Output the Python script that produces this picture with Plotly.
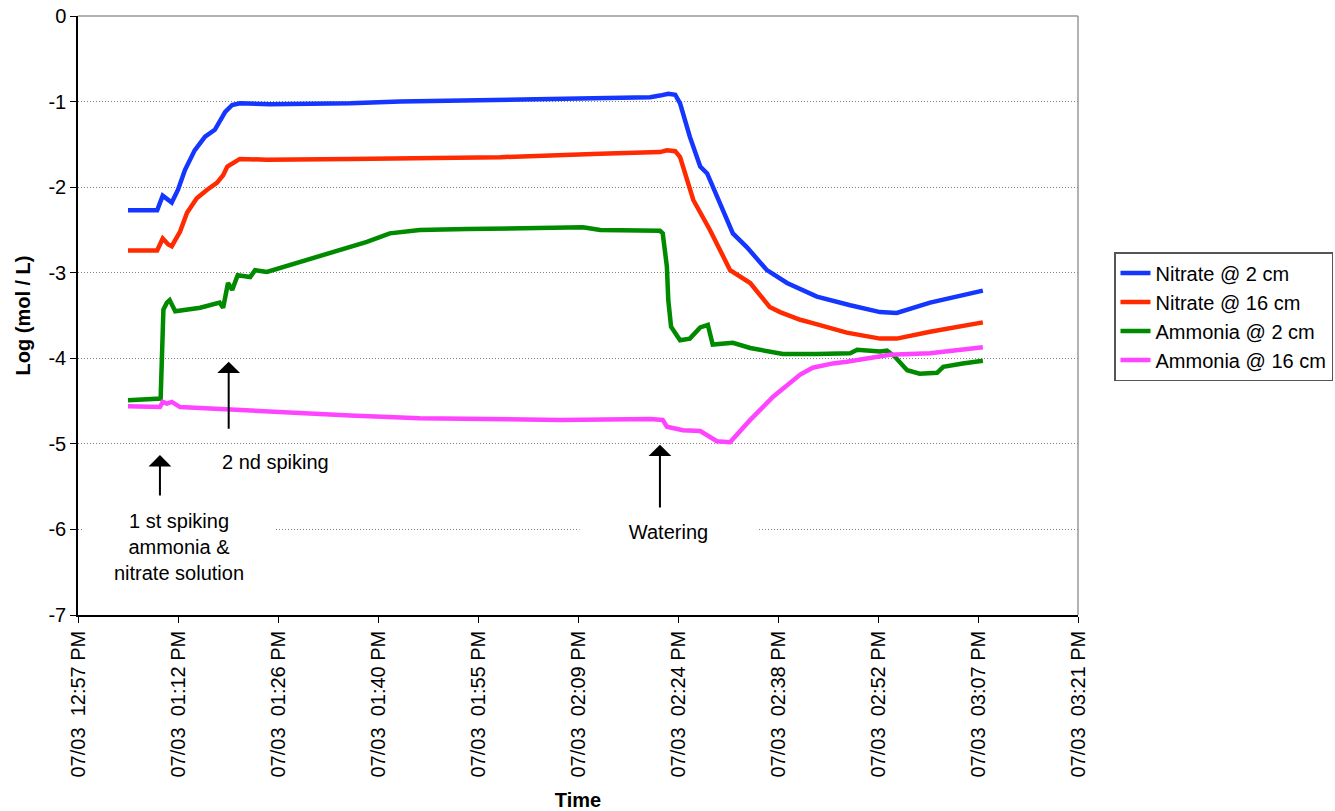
import datetime as dt
import plotly.graph_objects as go

# Sensor log, minutes after 1:00 PM on 07/03 and log10 concentration (mol/L)
nitrate_2cm_min = [4.8, 9.0, 9.8, 10.6, 11.1, 12.0, 13.0, 14.4, 15.9, 17.3, 18.0, 18.8, 19.8,
                   20.9, 25.2, 29.6, 36.8, 44.0, 51.2, 58.4, 65.6, 72.8, 80.0, 81.4, 82.6,
                   83.6, 84.3, 85.7, 87.2, 88.2, 89.6, 91.9, 93.9, 96.8, 99.7, 104.0, 108.8,
                   113.1, 115.5, 120.3, 127.9]
nitrate_2cm_log = [-2.27, -2.27, -2.10, -2.16, -2.18, -2.03, -1.80, -1.57, -1.41, -1.33, -1.24,
                   -1.12, -1.04, -1.02, -1.03, -1.03, -1.02, -1.00, -0.99, -0.98, -0.975, -0.96,
                   -0.95, -0.93, -0.91, -0.92, -1.02, -1.41, -1.76, -1.84, -2.11, -2.54, -2.70,
                   -2.97, -3.12, -3.28, -3.38, -3.46, -3.47, -3.35, -3.21]

nitrate_16cm_min = [4.8, 9.0, 9.8, 10.6, 11.1, 12.3, 13.3, 14.7, 16.2, 17.6, 18.5, 19.1, 20.9,
                    24.8, 36.8, 46.8, 58.4, 72.8, 80.0, 81.4, 82.4, 83.6, 84.3, 85.7, 86.2,
                    88.6, 91.5, 94.4, 97.2, 98.7, 101.6, 103.4, 108.3, 113.1, 115.5, 120.3, 127.9]
nitrate_16cm_log = [-2.74, -2.74, -2.60, -2.67, -2.69, -2.52, -2.30, -2.13, -2.03, -1.95, -1.86,
                    -1.76, -1.67, -1.68, -1.67, -1.66, -1.65, -1.61, -1.60, -1.59, -1.57, -1.58,
                    -1.65, -2.03, -2.15, -2.50, -2.97, -3.12, -3.40, -3.46, -3.55, -3.59, -3.70,
                    -3.77, -3.77, -3.69, -3.58]

ammonia_2cm_min = [4.8, 9.5, 9.9, 10.4, 10.8, 11.6, 15.2, 18.0, 18.5, 19.2, 19.8, 20.6, 22.4,
                   23.1, 24.8, 29.6, 34.3, 39.2, 42.5, 46.8, 53.6, 63.1, 70.3, 72.8, 80.0,
                   81.4, 81.8, 82.4, 82.6, 83.0, 84.3, 85.7, 87.2, 88.3, 89.0, 91.9, 94.4,
                   99.1, 104.0, 108.8, 109.8, 113.1, 114.1, 115.2, 117.0, 118.8, 121.3, 122.2,
                   125.0, 127.9]
ammonia_2cm_log = [-4.49, -4.47, -3.43, -3.35, -3.32, -3.45, -3.41, -3.35, -3.41, -3.12, -3.20,
                   -3.03, -3.05, -2.97, -2.99, -2.87, -2.76, -2.64, -2.54, -2.50, -2.49, -2.48,
                   -2.47, -2.50, -2.51, -2.51, -2.54, -2.93, -3.32, -3.63, -3.79, -3.77, -3.64,
                   -3.61, -3.84, -3.82, -3.88, -3.95, -3.95, -3.94, -3.90, -3.92, -3.91, -3.98,
                   -4.14, -4.18, -4.17, -4.10, -4.06, -4.03]

ammonia_16cm_min = [4.8, 9.4, 9.8, 10.4, 11.1, 12.3, 15.2, 19.8, 24.8, 29.6, 36.8, 46.8, 58.4,
                    67.0, 80.0, 81.8, 82.4, 84.7, 87.2, 89.6, 91.5, 94.4, 97.7, 101.6, 103.4,
                    106.3, 108.3, 114.5, 120.3, 127.9]
ammonia_16cm_log = [-4.56, -4.57, -4.51, -4.53, -4.51, -4.57, -4.58, -4.60, -4.63, -4.64, -4.67,
                    -4.70, -4.71, -4.72, -4.71, -4.72, -4.80, -4.84, -4.85, -4.97, -4.98, -4.72,
                    -4.45, -4.19, -4.11, -4.06, -4.04, -3.96, -3.94, -3.87]

series_names = ["Nitrate @ 2 cm", "Nitrate @ 16 cm", "Ammonia @ 2 cm", "Ammonia @ 16 cm"]
series_colors = ["#1436FF", "#FF2A00", "#008A00", "#FF44FF"]

# Events marked on the chart
event_labels = ["1 st spiking<br>ammonia &<br>nitrate solution", "2 nd spiking", "Watering"]

y_tick_vals = [0, -1, -2, -3, -4, -5, -6, -7]
y_tick_text = ["0", "-1", "-2", "-3", "-4", "-5", "-6", "-7"]

BASE = dt.datetime(2008, 7, 3, 13, 0, 0)


def to_time(minutes):
    return [BASE + dt.timedelta(minutes=m) for m in minutes]


# Axis ticks every 0.01 day (14.4 min) starting 12:57:36 PM
tick_start = dt.datetime(2008, 7, 3, 12, 57, 36)
tick_times = [tick_start + dt.timedelta(minutes=14.4 * k) for k in range(11)]
tick_labels = [t.strftime("%m/%d  %I:%M %p") for t in tick_times]

fig = go.Figure()
all_series = [
    (nitrate_2cm_min, nitrate_2cm_log),
    (nitrate_16cm_min, nitrate_16cm_log),
    (ammonia_2cm_min, ammonia_2cm_log),
    (ammonia_16cm_min, ammonia_16cm_log),
]
for (mins, vals), name, color in zip(all_series, series_names, series_colors):
    fig.add_trace(go.Scatter(
        x=to_time(mins), y=vals, name=name, mode="lines",
        line=dict(color=color, width=4.5),
    ))

FONT = "Arial, Liberation Sans, sans-serif"

# Event arrows: (minutes after 1 PM, tip value, tail value)
arrows = [
    (9.4, -5.13, -5.62),
    (19.3, -4.04, -4.84),
    (81.4, -5.01, -5.76),
]
for m, tip, tail in arrows:
    t = to_time([m])[0]
    fig.add_annotation(
        x=t, y=tip, ax=t, ay=tail, axref="x", ayref="y", xref="x", yref="y",
        text="", showarrow=True, arrowhead=1, arrowsize=1.9, arrowwidth=2,
        arrowcolor="black",
    )

label_pos = [(12.1, -6.21, 190), (26.0, -5.21, None), (82.6, -6.03, 175)]
for text, (m, v, w) in zip(event_labels, label_pos):
    kw = dict(width=w) if w else {}
    fig.add_annotation(
        x=to_time([m])[0], y=v, xref="x", yref="y", text=text, showarrow=False,
        font=dict(family=FONT, size=20, color="black"), bgcolor="white",
        align="center", xanchor="center", yanchor="middle", **kw,
    )

# Grey frame on the top and right of the plot area
fig.add_shape(type="line", xref="paper", yref="paper", x0=0, x1=1, y0=1, y1=1,
              line=dict(color="#999999", width=1.5))
fig.add_shape(type="line", xref="paper", yref="paper", x0=1, x1=1, y0=0, y1=1,
              line=dict(color="#999999", width=1.5))

fig.update_layout(
    width=1335, height=811,
    margin=dict(l=78, r=257, t=16, b=196, autoexpand=False),
    paper_bgcolor="white", plot_bgcolor="white",
    font=dict(family=FONT, size=20, color="black"),
    showlegend=True,
    legend=dict(
        x=1.036, y=0.606, xanchor="left", yanchor="top",
        bordercolor="#555555", borderwidth=1.5, bgcolor="white",
        font=dict(family=FONT, size=20, color="black"),
        tracegroupgap=0,
    ),
)
fig.update_xaxes(
    type="date", range=[tick_times[0], tick_times[-1]],
    tickmode="array", tickvals=tick_times, ticktext=tick_labels, tickangle=-90,
    ticks="outside", ticklen=6, tickcolor="black", tickwidth=1,
    showline=True, linecolor="black", linewidth=1.5, showgrid=False, zeroline=False,
    tickfont=dict(family=FONT, size=20, color="black"),
    title=dict(text="<b>Time</b>", font=dict(family=FONT, size=20, color="black"), standoff=17),
)
fig.update_yaxes(
    range=[-7, 0], tickmode="array", tickvals=y_tick_vals, ticktext=y_tick_text,
    ticks="outside", ticklen=6, tickcolor="black", tickwidth=1,
    showline=True, linecolor="black", linewidth=1.5, zeroline=False,
    showgrid=True, gridcolor="#808080", gridwidth=1, griddash="1px,2px",
    tickfont=dict(family=FONT, size=20, color="black"),
    title=dict(text="<b>Log (mol / L)</b>", font=dict(family=FONT, size=20, color="black"), standoff=12),
)

fig.write_html("out.html")
